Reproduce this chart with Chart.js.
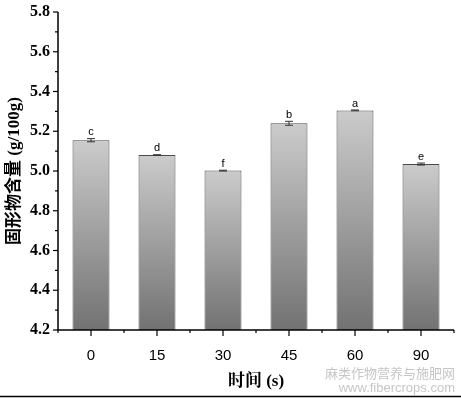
<!DOCTYPE html>
<html>
<head>
<meta charset="utf-8">
<script src="https://cdn.jsdelivr.net/npm/chart.js@4"></script>
<style>
  body { margin: 0; background: #fff; }
  canvas { display: block; }
</style>
</head>
<body>
<canvas id="chart" width="461" height="398"></canvas>
<script>
// data
const times = ['0', '15', '30', '45', '60', '90'];
const solids = [5.155, 5.080, 5.002, 5.240, 5.305, 5.035];
const errors = [0.008, 0.002, 0.002, 0.010, 0.002, 0.005];
const letters = ['c', 'd', 'f', 'b', 'a', 'e'];
const yTicks = [4.2, 4.4, 4.6, 4.8, 5.0, 5.2, 5.4, 5.6, 5.8];

// gray gradient per bar, light at top
function barFill(ctx) {
  const chart = ctx.chart;
  const y = chart.scales.y;
  if (!chart.chartArea || !y) return '#a0a0a0';
  const top = y.getPixelForValue(solids[ctx.dataIndex]);
  const g = chart.ctx.createLinearGradient(0, top, 0, chart.chartArea.bottom);
  g.addColorStop(0, '#cbcbcb');
  g.addColorStop(1, '#727272');
  return g;
}

// axis ticks (major + minor), error bars, letters, watermark
const extras = {
  id: 'extras',
  afterDatasetsDraw(chart) {
    const c = chart.ctx;
    const x = chart.scales.x, y = chart.scales.y;
    const a = chart.chartArea;
    c.save();
    c.strokeStyle = '#000';
    c.lineWidth = 1.5;
    // axis lines
    c.beginPath();
    c.moveTo(a.left, a.top); c.lineTo(a.left, a.bottom); c.lineTo(a.right, a.bottom);
    c.stroke();
    c.lineWidth = 1.2;
    // y ticks
    for (let i = 0; i < yTicks.length; i++) {
      const py = y.getPixelForValue(yTicks[i]);
      c.beginPath(); c.moveTo(a.left - 5, py); c.lineTo(a.left, py); c.stroke();
      if (i < yTicks.length - 1) {
        const pm = y.getPixelForValue((yTicks[i] + yTicks[i + 1]) / 2);
        c.beginPath(); c.moveTo(a.left - 3, pm); c.lineTo(a.left, pm); c.stroke();
      }
    }
    // x ticks
    const step = (a.right - a.left) / times.length;
    for (let i = 0; i <= times.length; i++) {
      const pb = a.left + i * step;
      c.beginPath(); c.moveTo(pb, a.bottom); c.lineTo(pb, a.bottom + 3); c.stroke();
      if (i < times.length) {
        const pc = x.getPixelForValue(i);
        c.beginPath(); c.moveTo(pc, a.bottom); c.lineTo(pc, a.bottom + 6); c.stroke();
      }
    }
    // error bars + letters
    c.strokeStyle = '#333';
    c.lineWidth = 1;
    c.fillStyle = '#000';
    c.font = '11px "Liberation Sans", Arial, sans-serif';
    c.textAlign = 'center';
    c.textBaseline = 'bottom';
    solids.forEach((v, i) => {
      const px = x.getPixelForValue(i);
      const hi = y.getPixelForValue(v + errors[i]);
      const lo = y.getPixelForValue(v - errors[i]);
      c.beginPath();
      c.moveTo(px, hi); c.lineTo(px, lo);
      c.moveTo(px - 4, hi); c.lineTo(px + 4, hi);
      c.moveTo(px - 4, lo); c.lineTo(px + 4, lo);
      c.stroke();
      c.fillText(letters[i], px, hi - 1);
    });
    // watermark
    c.fillStyle = '#c6c6c6';
    c.textAlign = 'right';
    c.textBaseline = 'alphabetic';
    c.font = '13px "Noto Sans CJK SC", sans-serif';
    c.fillText('麻类作物营养与施肥网', 455, 378);
    c.font = '13px "Liberation Sans", Arial, sans-serif';
    c.fillText('www.fibercrops.com', 455, 392);
    // bottom frame line
    c.strokeStyle = '#000';
    c.lineWidth = 1.5;
    c.beginPath(); c.moveTo(0, 396.5); c.lineTo(461, 396.5); c.stroke();
    c.restore();
  }
};

new Chart(document.getElementById('chart'), {
  type: 'bar',
  data: {
    labels: times,
    datasets: [{
      data: solids,
      backgroundColor: barFill,
      borderColor: '#4a4a4a',
      borderWidth: 1,
      borderSkipped: 'bottom',
      barPercentage: 0.56,
      categoryPercentage: 1
    }]
  },
  options: {
    responsive: false,
    animation: false,
    layout: { padding: { top: 12, right: 7, bottom: 0, left: 0 } },
    plugins: { legend: { display: false }, tooltip: { enabled: false } },
    scales: {
      x: {
        grid: { display: false, drawTicks: false },
        border: { display: false },
        ticks: {
          color: '#000', padding: 17,
          font: { family: '"Liberation Sans", Arial, sans-serif', size: 15 }
        },
        title: {
          display: true, text: '时间 (s)', color: '#000', padding: { top: 6, bottom: 6 },
          font: { family: '"Liberation Serif", "Noto Serif CJK SC", "Noto Sans CJK SC", serif', size: 17, weight: 'bold' }
        },
        afterFit(s) { s.height = 68; s.paddingLeft = 0; s.paddingRight = 0; }
      },
      y: {
        min: 4.2, max: 5.8,
        afterBuildTicks(s) { s.ticks = yTicks.map(v => ({ value: v })); },
        grid: { display: false, drawTicks: false },
        border: { display: false },
        ticks: {
          color: '#000', padding: 8,
          callback: v => v.toFixed(1),
          font: { family: '"Liberation Serif", "Times New Roman", serif', size: 16, weight: 'bold' }
        },
        title: {
          display: true, text: '固形物含量 (g/100g)', color: '#000',
          font: { family: '"Liberation Serif", "Noto Sans CJK SC", serif', size: 17, weight: 'bold' }
        },
        afterFit(s) { s.width = 58; s.paddingTop = 0; s.paddingBottom = 0; }
      }
    }
  },
  plugins: [extras]
});
</script>
</body>
</html>
